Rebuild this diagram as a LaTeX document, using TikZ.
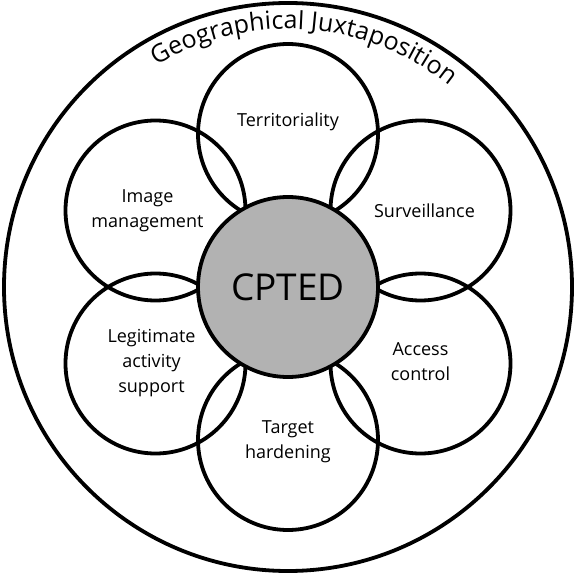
\documentclass[tikz,border=0pt]{standalone}
\usepackage{fontspec}
\setmainfont{Open Sans}
\usetikzlibrary{decorations.text}

\tikzset{
  petal/.style={circle, draw, line width=1.9pt, minimum size=90pt, inner sep=0pt},
  petaltext/.style={align=center, font=\fontsize{9}{12.5}\selectfont},
}

\begin{document}
\begin{tikzpicture}[x=0.5pt, y=0.5pt]
  \useasboundingbox (-288,-291) rectangle (290,287);
  % outer ring
  \draw[line width=1.9pt] (0,0) circle[radius=142pt];
  \path[decorate, decoration={text along path, text align=center,
      text={|\fontsize{12.5}{14}\selectfont|Geographical Juxtaposition}}]
    (146:129pt) arc[start angle=146, end angle=26, radius=129pt];
  % petals
  \node[petal] (terr)   at (90:153)  {};
  \node[petal] (surv)   at (30:153)  {};
  \node[petal] (access) at (-30:153) {};
  \node[petal] (target) at (-90:153) {};
  \node[petal] (legit)  at (210:153) {};
  \node[petal] (image)  at (150:153) {};
  % centre
  \node[petal, fill=gray!60, font=\fontsize{18.5}{20}\selectfont] (core) at (0,0) {CPTED};
  % petal labels
  \node[petaltext] at ([yshift=6pt]terr.center) {Territoriality};
  \node[petaltext] at ([xshift=2pt]surv.center) {Surveillance};
  \node[petaltext] at ([yshift=1pt]access.center) {Access\\control};
  \node[petaltext] at ([yshift=-1pt]target.center) {Target\\hardening};
  \node[petaltext] at ([xshift=-2pt]legit.center) {Legitimate\\activity\\support};
  \node[petaltext] at ([xshift=-4pt]image.center) {Image\\management};
\end{tikzpicture}
\end{document}
